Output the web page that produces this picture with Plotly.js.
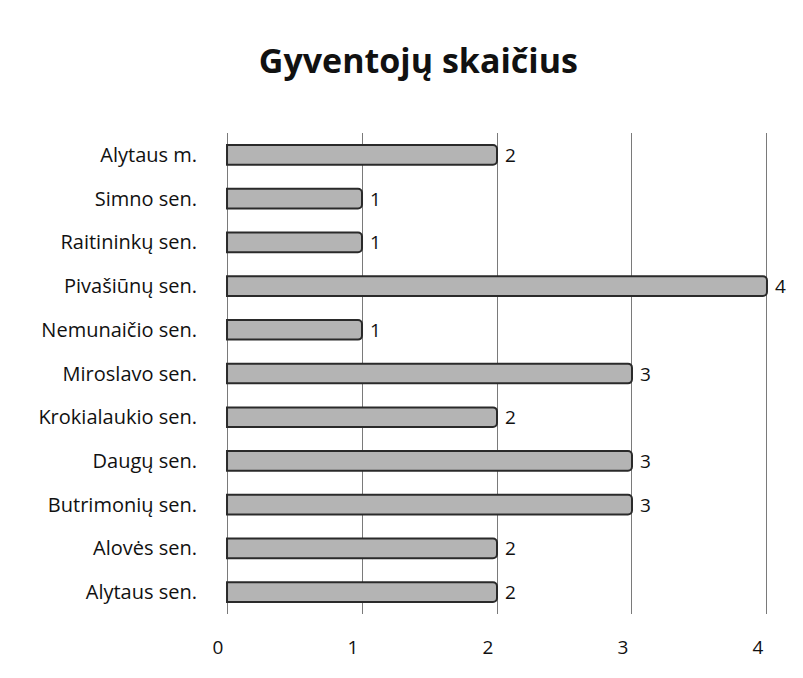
<!DOCTYPE html>
<html><head><meta charset="utf-8">
<script src="https://cdn.plot.ly/plotly-3.0.1.min.js"></script>
<style>body{margin:0;background:#fff}#c{width:803px;height:678px}</style>
</head><body><div id="c"></div>
<script>
const categories = ["Alytaus m.","Simno sen.","Raitininkų sen.","Pivašiūnų sen.","Nemunaičio sen.","Miroslavo sen.","Krokialaukio sen.","Daugų sen.","Butrimonių sen.","Alovės sen.","Alytaus sen."];
const values = [2,1,1,4,1,3,2,3,3,2,2];
const tickVals = [0,1,2,3,4];
const tickText = ["0","1","2","3","4"];

const F = '"Open Sans", sans-serif';
const trace = {
  type: 'bar', orientation: 'h',
  y: categories, x: values,
  text: values.map(v => ' ' + v), textposition: 'outside', cliponaxis: false, constraintext: 'none',
  textfont: {family: F, size: 19, color: '#111'},
  marker: {color: '#b4b4b4', line: {color: '#2a2a2a', width: 2}, cornerradius: 4},
  width: 0.45
};
const layout = {
  width: 803, height: 678,
  paper_bgcolor: '#fff', plot_bgcolor: '#fff',
  margin: {l: 225, r: 34, t: 133, b: 64},
  showlegend: false,
  title: {text: 'Gyventojų skaičius', font: {family: F, size: 34, color: '#111', weight: 'bold'}, x: 0.521, xanchor: 'center', y: 0.91, yanchor: 'middle'},
  xaxis: {range: [-0.015, 4.015], tickvals: tickVals, ticktext: tickText, showgrid: true, gridcolor: '#7a7a7a', gridwidth: 1, zeroline: false, showline: false,
          tickfont: {family: F, size: 19, color: '#111'}, ticks: '', ticklabelstandoff: 20, ticklabelshift: -9, fixedrange: true},
  yaxis: {autorange: 'reversed', tickfont: {family: F, size: 20, color: '#111'}, ticks: '', showline: false, showgrid: false, ticklabelstandoff: 27, fixedrange: true},
  font: {family: F}
};
Plotly.newPlot('c', [trace], layout, {displayModeBar: false, staticPlot: true});
</script></body></html>
